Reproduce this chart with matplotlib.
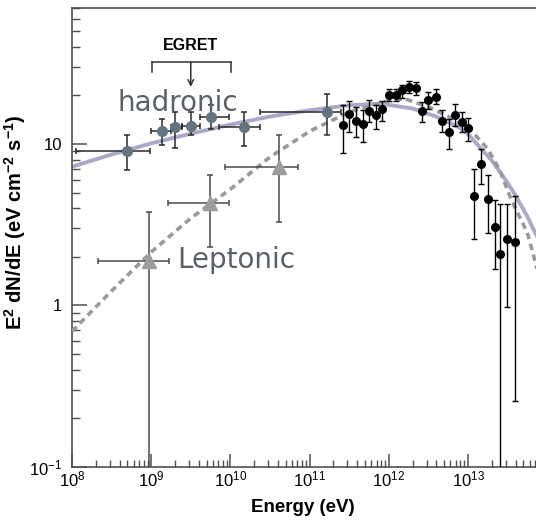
import numpy as np
import matplotlib
matplotlib.use('Agg')
import matplotlib.pyplot as plt
from matplotlib.ticker import FixedLocator, NullFormatter

plt.rcParams['font.family'] = ['Liberation Sans', 'DejaVu Sans']
plt.rcParams['mathtext.fontset'] = 'custom'
plt.rcParams['mathtext.rm'] = 'Liberation Sans'
plt.rcParams['mathtext.it'] = 'Liberation Sans:italic'
plt.rcParams['mathtext.bf'] = 'Liberation Sans:bold'

# ---------------- data ----------------
# HESS (black points): energy, flux, upper and lower ends of error bars
hess_E = [2.63e11, 3.16e11, 3.89e11, 4.68e11, 5.62e11, 6.92e11, 8.32e11,
          1.0e12, 1.23e12, 1.48e12, 1.82e12, 2.19e12, 2.63e12, 3.16e12,
          3.89e12, 4.68e12, 5.75e12, 6.76e12, 8.32e12, 1.0e13, 1.20e13,
          1.48e13, 1.78e13, 2.19e13, 2.51e13, 3.09e13, 3.89e13]
hess_F = [13.1, 15.4, 13.9, 13.4, 16.1, 15.1, 16.4,
          20.2, 20.2, 21.5, 22.7, 22.3, 16.0, 18.7,
          19.7, 13.9, 11.9, 15.1, 13.6, 12.5, 4.77,
          7.5, 4.55, 3.06, 2.09, 2.57, 2.47]
hess_hi = [17.5, 18.4, 17.0, 16.3, 18.8, 17.5, 18.6,
           22.0, 22.0, 23.3, 24.6, 24.3, 18.2, 20.9,
           22.0, 16.3, 14.3, 17.7, 15.9, 14.6, 7.0,
           9.3, 6.45, 4.51, 4.24, 4.24, 4.77]
hess_lo = [8.75, 11.8, 11.0, 10.3, 13.6, 12.4, 13.95,
           18.6, 18.5, 19.4, 20.7, 20.2, 13.6, 16.5,
           17.7, 11.8, 9.3, 12.9, 11.8, 10.5, 2.57,
           5.65, 2.80, 1.69, 0.05, 0.98, 0.257]

# EGRET-era points (grey-blue circles), hadronic
egret_E = [4.92e8, 1.36e9, 2.01e9, 3.16e9, 5.70e9, 1.48e10, 1.67e11]
egret_F = [9.0, 12.1, 12.7, 13.0, 14.7, 12.7, 15.9]
egret_hi = [11.3, 14.2, 15.7, 15.7, 17.5, 15.7, 20.4]
egret_lo = [6.9, 9.9, 9.5, 11.3, 12.4, 9.7, 11.3]
egret_Elo = [1.12e8, 9.9e8, 1.78e9, 2.45e9, 4.17e9, 7.24e9, 2.34e10]
egret_Ehi = [9.55e8, 1.78e9, 2.45e9, 4.17e9, 9.55e9, 2.34e10, 2.5e11]

# Leptonic points (grey triangles)
lep_E = [9.5e8, 5.58e9, 4.07e10]
lep_F = [1.88, 4.3, 7.17]
lep_hi = [3.77, 6.4, 11.4]
lep_lo = [0.05, 2.3, 3.3]
lep_Elo = [2.11e8, 1.62e9, 8.65e9]
lep_Ehi = [1.70e9, 9.55e9, 7.08e10]

# model curves
had_E = [1e8, 3.16e8, 1e9, 3.16e9, 1e10, 3.16e10, 1e11, 3.16e11, 7.94e11,
         2.0e12, 3.98e12, 7.94e12, 1e13, 1.41e13, 2.0e13, 2.51e13,
         3.16e13, 3.98e13, 5.62e13, 7.94e13, 1e14]
had_F = [7.24, 8.61, 10.1, 11.6, 13.2, 14.8, 16.2, 17.4, 17.8,
         16.6, 14.8, 12.6, 11.5, 9.55, 7.9, 6.76,
         5.75, 4.8, 3.55, 2.5, 1.9]
lep_curve_E = [1e8, 3.16e8, 1e9, 3.16e9, 1e10, 3.16e10, 1e11, 3.16e11, 1e12,
               1.58e12, 3.16e12, 5.62e12, 1.12e13, 1.78e13, 2.51e13,
               3.55e13, 5.62e13, 7.24e13, 1e14]
lep_curve_F = [0.69, 1.23, 2.14, 3.47, 5.25, 8.3, 12.0, 15.8, 18.6,
               19.1, 17.0, 14.8, 12.0, 9.3, 6.9,
               4.47, 2.82, 1.78, 0.89]

x_ticks = [1e8, 1e9, 1e10, 1e11, 1e12, 1e13]
x_ticklabels = ['$10^{8}$', '$10^{9}$', '$10^{10}$', '$10^{11}$', '$10^{12}$', '$10^{13}$']
y_ticks = [0.1, 1, 10]
y_ticklabels = ['$10^{-1}$', '1', '10']

# ---------------- figure ----------------
W, H = 536, 521
fig = plt.figure(figsize=(W / 100, H / 100), dpi=100)
ax = fig.add_axes([72 / W, (H - 466.7) / H, 475.2 / W, 459.0 / H])
ax.set_xscale('log')
ax.set_yscale('log')
ax.set_xlim(1e8, 1e14)
ax.set_ylim(0.1, 70)

spine_c = '#505050'
for s in ax.spines.values():
    s.set_color(spine_c)
    s.set_linewidth(1.2)

# model curves
ax.plot(had_E, had_F, color='#aaaac8', lw=2.8, solid_capstyle='round', zorder=2)
ax.plot(lep_curve_E, lep_curve_F, color='#9a9a9a', lw=2.6,
        linestyle=(0, (1.8, 1.3)), zorder=3)

# leptonic triangles
lep_E_a = np.array(lep_E)
lep_F_a = np.array(lep_F)
ax.errorbar(lep_E, lep_F,
            yerr=[lep_F_a - np.array(lep_lo), np.array(lep_hi) - lep_F_a],
            xerr=[lep_E_a - np.array(lep_Elo), np.array(lep_Ehi) - lep_E_a],
            fmt='^', ms=10, mfc='#9c9c9c', mec='#9c9c9c', ecolor='#4a4a4a',
            elinewidth=1.1, capsize=2.3, capthick=1.1, zorder=4)

# EGRET-era hadronic points
eg_E_a = np.array(egret_E)
eg_F_a = np.array(egret_F)
ax.errorbar(egret_E, egret_F,
            yerr=[eg_F_a - np.array(egret_lo), np.array(egret_hi) - eg_F_a],
            xerr=[eg_E_a - np.array(egret_Elo), np.array(egret_Ehi) - eg_E_a],
            fmt='o', ms=7, mfc='#637380', mec='#637380', ecolor='#2a2a2a',
            elinewidth=1.1, capsize=2.3, capthick=1.1, zorder=5)

# HESS points
h_F_a = np.array(hess_F)
ax.errorbar(hess_E, hess_F,
            yerr=[h_F_a - np.array(hess_lo), np.array(hess_hi) - h_F_a],
            fmt='o', ms=5.5, color='black', ecolor='black',
            elinewidth=1.0, capsize=2.0, capthick=1.0, zorder=6)

# EGRET bracket annotation
br_left, br_right, br_mid = 1.01e9, 1.02e10, 3.16e9
br_y, br_cap, arrow_tip = 32.1, 27.9, 22.6
ax.plot([br_left, br_right], [br_y, br_y], color='#333333', lw=1.1, zorder=5)
ax.plot([br_left, br_left], [br_y, br_cap], color='#333333', lw=1.1, zorder=5)
ax.plot([br_right, br_right], [br_y, br_cap], color='#333333', lw=1.1, zorder=5)
ax.annotate('', xy=(br_mid, arrow_tip), xytext=(br_mid, br_y),
            arrowprops=dict(arrowstyle='->', color='#333333', lw=1.1,
                            shrinkA=0, shrinkB=0, mutation_scale=10), zorder=5)
ax.text(br_mid, 41.0, 'EGRET', ha='center', va='center', fontsize=11.5,
        fontweight='bold', color='black')

ax.text(3.8e8, 16.1, 'hadronic', ha='left', va='baseline', fontsize=20,
        family='DejaVu Sans', color='#5b6169', zorder=7)
ax.text(2.11e9, 1.71, 'Leptonic', ha='left', va='baseline', fontsize=20,
        family='DejaVu Sans', color='#5b6169', zorder=7)

# ticks
ax.xaxis.set_major_locator(FixedLocator(x_ticks))
ax.set_xticklabels(x_ticklabels)
minor_x = [m * 10.0 ** d for d in range(8, 14) for m in range(2, 10)]
ax.xaxis.set_minor_locator(FixedLocator(minor_x))
ax.xaxis.set_minor_formatter(NullFormatter())
ax.yaxis.set_major_locator(FixedLocator(y_ticks))
ax.set_yticklabels(y_ticklabels)
minor_y = [m * 10.0 ** d for d in range(-1, 2) for m in range(2, 10)]
ax.yaxis.set_minor_locator(FixedLocator(minor_y))
ax.yaxis.set_minor_formatter(NullFormatter())

ax.tick_params(axis='x', which='major', direction='in', length=9.5, width=1.1,
               color=spine_c, labelsize=12, pad=2, top=False)
ax.tick_params(axis='x', which='minor', direction='in', length=5, width=1.0,
               color=spine_c, top=False)
ax.tick_params(axis='y', which='major', direction='in', length=11, width=1.1,
               color=spine_c, labelsize=12, pad=7, right=False)
ax.tick_params(axis='y', which='minor', direction='in', length=6, width=1.0,
               color=spine_c, right=False)

ax.set_xlabel('Energy (eV)', fontsize=13.5, fontweight='bold')
ax.xaxis.set_label_coords((303 - 72) / 475.2, -(499 - 466.7) / 459.0)
ax.set_ylabel(r'E$\mathbf{^{2}}$ dN/dE (eV cm$\mathbf{^{-2}}$ s$\mathbf{^{-1}}$)',
              fontsize=14.5, fontweight='bold')
ax.yaxis.set_label_coords(-(72 - 28) / 475.2, (466.7 - 222) / 459.0)

fig.savefig('out.png', dpi=100)
